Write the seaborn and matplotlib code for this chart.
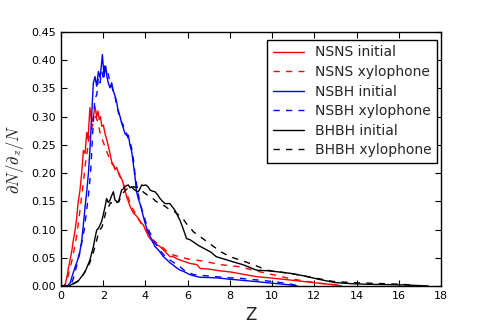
import matplotlib
matplotlib.use("Agg")
import matplotlib.pyplot as plt
import seaborn as sns
import pandas as pd

# ---------------- data ----------------
nsns_init_z = [0.0, 0.1, 0.2, 0.3, 0.35, 0.45, 0.51, 0.58, 0.66, 0.74, 0.82, 0.9, 0.98, 1.06, 1.14, 1.22, 1.28,
               1.37, 1.45, 1.53, 1.61, 1.69, 1.75, 1.81, 1.87, 1.93, 2.01, 2.09, 2.16, 2.24, 2.32, 2.40, 2.48,
               2.56, 2.64, 2.72, 2.79, 2.87, 2.95, 3.03, 3.11, 3.19, 3.27, 3.35, 3.43, 3.55, 3.66, 3.78, 3.90,
               4.02, 4.14, 4.26, 4.37, 4.50, 4.69, 4.85, 5.0, 5.17, 5.32, 5.5, 5.8, 6.1, 6.43, 6.6, 7.0, 7.5,
               8.0, 8.6, 9.27, 10.0, 10.85, 11.5, 12.2, 13.0, 13.3]
nsns_init_v = [0, 0.0, 0.003, 0.02, 0.032, 0.05, 0.062, 0.08, 0.097, 0.12, 0.15, 0.17, 0.20, 0.24, 0.235, 0.272,
               0.26, 0.316, 0.29, 0.30, 0.318, 0.30, 0.31, 0.295, 0.30, 0.283, 0.285, 0.269, 0.26, 0.248, 0.235,
               0.22, 0.215, 0.206, 0.21, 0.20, 0.194, 0.19, 0.182, 0.17, 0.158, 0.15, 0.141, 0.135, 0.129, 0.125,
               0.12, 0.113, 0.108, 0.098, 0.088, 0.082, 0.078, 0.074, 0.07, 0.064, 0.058, 0.052, 0.052, 0.048,
               0.044, 0.04, 0.038, 0.031, 0.030, 0.027, 0.025, 0.021, 0.0165, 0.014, 0.0106, 0.008, 0.005,
               0.002, 0.0]

nsns_xylo_z = [0.0, 0.15, 0.25, 0.35, 0.45, 0.55, 0.65, 0.75, 0.85, 0.95, 1.05, 1.15, 1.25, 1.35, 1.45, 1.55,
               1.65, 1.75, 1.85, 1.95, 2.05, 2.15, 2.25, 2.35, 2.45, 2.55, 2.65, 2.75, 2.85, 2.95, 3.05, 3.2,
               3.35, 3.5, 3.65, 3.8, 4.0, 4.2, 4.4, 4.7, 5.0, 5.3, 5.6, 6.0, 6.4, 6.9, 7.5, 8.0, 8.5, 9.2, 10.1,
               10.85, 11.5, 12.2, 13.0, 13.4]
nsns_xylo_v = [0, 0.0, 0.005, 0.02, 0.035, 0.05, 0.07, 0.09, 0.12, 0.15, 0.18, 0.215, 0.24, 0.27, 0.28, 0.29,
               0.30, 0.29, 0.272, 0.26, 0.25, 0.24, 0.23, 0.22, 0.215, 0.21, 0.205, 0.20, 0.19, 0.18, 0.17, 0.155,
               0.14, 0.13, 0.12, 0.11, 0.1, 0.09, 0.08, 0.072, 0.062, 0.055, 0.052, 0.048, 0.046, 0.043, 0.038,
               0.036, 0.034, 0.027, 0.0195, 0.013, 0.009, 0.005, 0.002, 0.0]

nsbh_init_z = [0.0, 0.3, 0.43, 0.55, 0.66, 0.78, 0.9, 0.98, 1.06, 1.14, 1.22, 1.30, 1.37, 1.45, 1.53, 1.61, 1.69,
               1.77, 1.85, 1.91, 1.96, 2.04, 2.12, 2.18, 2.24, 2.32, 2.40, 2.48, 2.56, 2.64, 2.72, 2.80, 2.87,
               2.95, 3.03, 3.11, 3.19, 3.27, 3.35, 3.43, 3.50, 3.58, 3.66, 3.74, 3.82, 3.90, 3.98, 4.06, 4.14,
               4.22, 4.30, 4.37, 4.45, 4.61, 4.73, 4.85, 5.0, 5.16, 5.32, 5.48, 5.64, 5.8, 6.11, 6.4, 6.6, 7.0,
               7.5, 8.0, 8.6, 9.27, 10.0, 10.85, 11.2]
nsbh_init_v = [0, 0.0, 0.005, 0.02, 0.033, 0.045, 0.062, 0.08, 0.109, 0.14, 0.168, 0.2, 0.241, 0.3, 0.359, 0.371,
               0.354, 0.38, 0.369, 0.39, 0.41, 0.371, 0.389, 0.37, 0.36, 0.351, 0.36, 0.345, 0.337, 0.325, 0.307,
               0.30, 0.289, 0.28, 0.27, 0.267, 0.267, 0.249, 0.238, 0.215, 0.195, 0.167, 0.155, 0.146, 0.135,
               0.123, 0.112, 0.102, 0.095, 0.088, 0.082, 0.076, 0.07, 0.064, 0.058, 0.052, 0.047, 0.041, 0.037,
               0.032, 0.028, 0.026, 0.02, 0.017, 0.0154, 0.015, 0.014, 0.012, 0.010, 0.0077, 0.005, 0.002, 0.0]

nsbh_xylo_z = [0.0, 0.35, 0.5, 0.6, 0.7, 0.8, 0.9, 1.0, 1.1, 1.2, 1.3, 1.4, 1.5, 1.6, 1.7, 1.77, 1.85, 1.93, 2.0,
               2.08, 2.16, 2.24, 2.32, 2.40, 2.48, 2.56, 2.64, 2.72, 2.79, 2.87, 2.95, 3.03, 3.11, 3.19, 3.27,
               3.35, 3.43, 3.5, 3.6, 3.7, 3.8, 3.9, 4.0, 4.1, 4.2, 4.3, 4.4, 4.5, 4.65, 4.8, 5.0, 5.2, 5.4, 5.64,
               5.9, 6.3, 6.9, 7.5, 8.0, 8.5, 9.2, 10.1, 10.8, 11.3]
nsbh_xylo_v = [0, 0.0, 0.005, 0.015, 0.03, 0.045, 0.06, 0.08, 0.1, 0.13, 0.16, 0.2, 0.27, 0.33, 0.34, 0.37, 0.36,
               0.38, 0.37, 0.39, 0.384, 0.375, 0.36, 0.355, 0.343, 0.335, 0.32, 0.31, 0.302, 0.29, 0.285, 0.275,
               0.27, 0.26, 0.255, 0.243, 0.225, 0.2, 0.175, 0.155, 0.14, 0.128, 0.115, 0.105, 0.095, 0.088, 0.08,
               0.074, 0.066, 0.058, 0.05, 0.045, 0.04, 0.034, 0.026, 0.02, 0.018, 0.016, 0.0145, 0.0136, 0.011,
               0.0077, 0.004, 0.0]

bhbh_init_z = [0.0, 0.4, 0.51, 0.66, 0.82, 0.98, 1.14, 1.25, 1.37, 1.45, 1.53, 1.61, 1.69, 1.77, 1.85, 1.93, 2.0,
               2.09, 2.16, 2.24, 2.32, 2.40, 2.48, 2.56, 2.64, 2.72, 2.80, 2.87, 2.95, 3.03, 3.11, 3.19, 3.27,
               3.35, 3.43, 3.5, 3.58, 3.66, 3.74, 3.82, 3.90, 4.02, 4.12, 4.22, 4.33, 4.45, 4.57, 4.69, 4.81,
               4.93, 5.05, 5.16, 5.28, 5.4, 5.52, 5.64, 5.8, 5.95, 6.11, 6.27, 6.5, 6.8, 7.1, 7.35, 7.7, 8.13,
               8.6, 9.0, 9.27, 9.8, 10.3, 10.85, 11.5, 12.2, 12.98, 13.8, 14.6, 15.4, 16.2, 16.8, 17.4]
bhbh_init_v = [0, 0.0, 0.003, 0.006, 0.009, 0.017, 0.025, 0.035, 0.046, 0.058, 0.069, 0.085, 0.099, 0.102, 0.108,
               0.115, 0.126, 0.141, 0.155, 0.148, 0.152, 0.16, 0.167, 0.152, 0.15, 0.149, 0.16, 0.17, 0.172,
               0.176, 0.178, 0.179, 0.174, 0.176, 0.172, 0.17, 0.168, 0.167, 0.172, 0.179, 0.178, 0.179, 0.176,
               0.17, 0.168, 0.167, 0.162, 0.155, 0.15, 0.146, 0.146, 0.146, 0.14, 0.134, 0.125, 0.116, 0.1,
               0.084, 0.082, 0.078, 0.072, 0.066, 0.06, 0.052, 0.048, 0.043, 0.038, 0.032, 0.028, 0.027, 0.025,
               0.0225, 0.018, 0.012, 0.006, 0.004, 0.003, 0.0025, 0.002, 0.001, 0.0]

bhbh_xylo_z = [0.0, 0.45, 0.6, 0.75, 0.9, 1.05, 1.2, 1.35, 1.45, 1.55, 1.65, 1.75, 1.85, 1.95, 2.05, 2.15, 2.25,
               2.35, 2.45, 2.55, 2.65, 2.75, 2.85, 2.95, 3.05, 3.15, 3.25, 3.35, 3.45, 3.55, 3.65, 3.75, 3.85,
               3.95, 4.06, 4.2, 4.35, 4.5, 4.69, 4.9, 5.08, 5.25, 5.4, 5.6, 5.8, 5.95, 6.1, 6.27, 6.5, 6.9, 7.3,
               7.6, 8.0, 8.4, 8.8, 9.3, 9.75, 10.3, 10.85, 11.5, 12.2, 12.9, 13.8, 14.6, 15.4, 16.2, 17.0]
bhbh_xylo_v = [0, 0.0, 0.004, 0.007, 0.012, 0.02, 0.03, 0.04, 0.05, 0.062, 0.075, 0.09, 0.1, 0.105, 0.12, 0.135,
               0.14, 0.148, 0.145, 0.15, 0.148, 0.15, 0.16, 0.165, 0.17, 0.172, 0.17, 0.175, 0.176, 0.174, 0.175,
               0.172, 0.168, 0.165, 0.162, 0.158, 0.155, 0.15, 0.146, 0.142, 0.137, 0.134, 0.131, 0.125, 0.118,
               0.11, 0.105, 0.096, 0.09, 0.079, 0.068, 0.06, 0.052, 0.047, 0.042, 0.035, 0.028, 0.025, 0.0225,
               0.018, 0.013, 0.008, 0.006, 0.005, 0.004, 0.003, 0.0]

labels = ["NSNS initial", "NSNS xylophone", "NSBH initial", "NSBH xylophone", "BHBH initial", "BHBH xylophone"]
series_z = [nsns_init_z, nsns_xylo_z, nsbh_init_z, nsbh_xylo_z, bhbh_init_z, bhbh_xylo_z]
series_v = [nsns_init_v, nsns_xylo_v, nsbh_init_v, nsbh_xylo_v, bhbh_init_v, bhbh_xylo_v]
colors = ["red", "red", "blue", "blue", "black", "black"]
dashed = [False, True, False, True, False, True]
x_ticks = [0, 2, 4, 6, 8, 10, 12, 14, 16, 18]
y_ticks = [0.00, 0.05, 0.10, 0.15, 0.20, 0.25, 0.30, 0.35, 0.40, 0.45]

# ---------------- style ----------------
sns.set_style("ticks")
plt.rcParams.update({
    "font.family": ["DejaVu Sans"],
    "mathtext.fontset": "cm",
    "xtick.direction": "in",
    "ytick.direction": "in",
    "xtick.top": True,
    "ytick.right": True,
    "xtick.major.size": 4,
    "ytick.major.size": 4,
    "xtick.major.width": 0.8,
    "ytick.major.width": 0.8,
    "axes.edgecolor": "black",
    "axes.linewidth": 1.0,
    "xtick.color": "black",
    "ytick.color": "black",
})

fig = plt.figure(figsize=(4.91, 3.27), dpi=100)
ax = fig.add_axes([61 / 491, 41 / 327, 380 / 491, 254 / 327])

for z, v, lab, c, d in zip(series_z, series_v, labels, colors, dashed):
    df = pd.DataFrame({"z": z, "v": v})
    sns.lineplot(data=df, x="z", y="v", ax=ax, color=c, linewidth=1.0,
                 estimator=None, sort=False, label=lab)
    if d:
        ax.lines[-1].set_dashes((4.5, 4.5))

ax.set_xlim(0, 18)
ax.set_ylim(0, 0.45)
ax.set_xticks(x_ticks)
ax.set_yticks(y_ticks)
ax.set_xticklabels([str(t) for t in x_ticks], fontsize=8)
ax.set_yticklabels([f"{t:.2f}" for t in y_ticks], fontsize=8)
ax.set_xlabel("Z", fontsize=12)
ax.set_ylabel(r"$\partial N/\partial_z/N$", fontsize=12)

handles, labs = ax.get_legend_handles_labels()
for h, d in zip(handles, dashed):
    if d:
        h.set_dashes((4.5, 4.5))
leg = ax.legend(handles, labs, loc="upper right", bbox_to_anchor=(0.989, 0.969), borderaxespad=0,
                fontsize=10, frameon=True, fancybox=False, framealpha=1, edgecolor="black",
                handlelength=2.2, labelspacing=0.4)
leg.get_frame().set_linewidth(1.0)

fig.savefig("out.png", dpi=100)
